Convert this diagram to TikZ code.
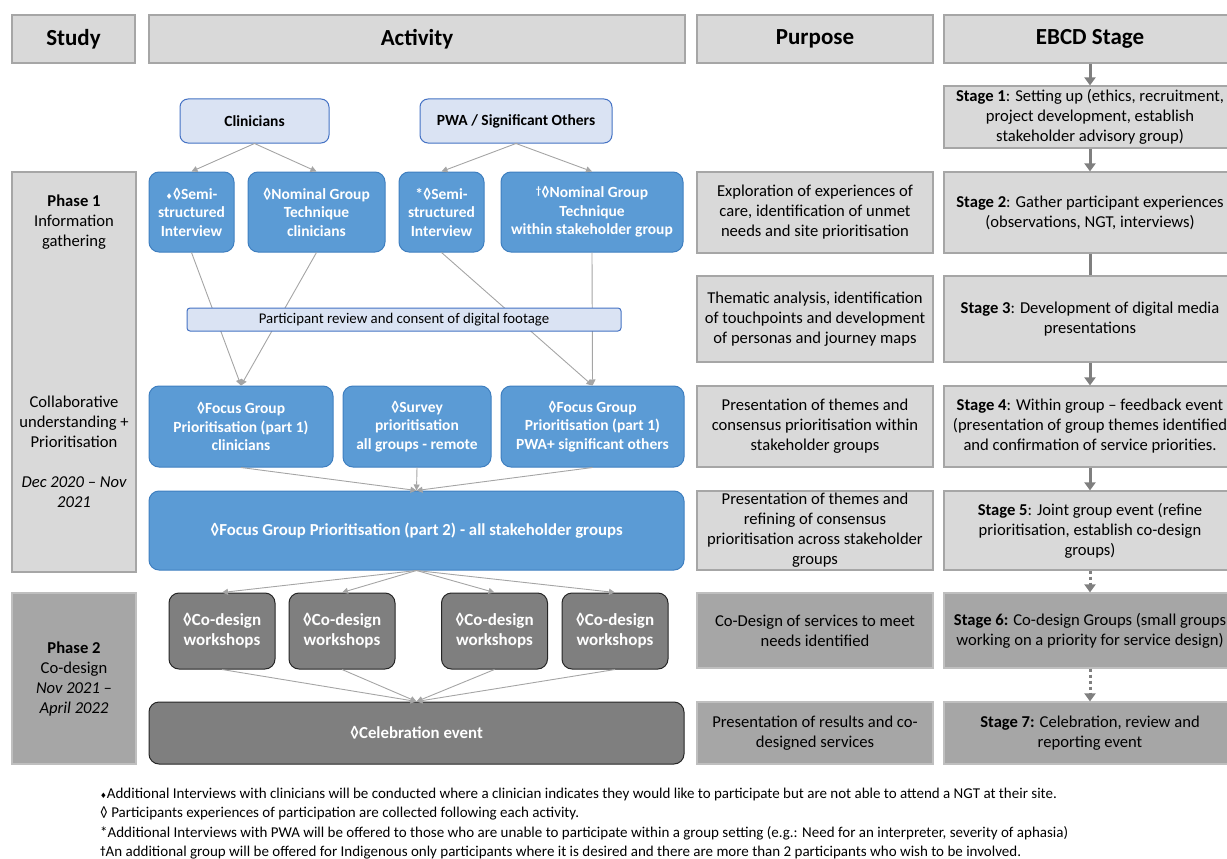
\documentclass[tikz,border=0pt]{standalone}
\usepackage{fontspec}
\setmainfont{Carlito}
\newfontfamily\djv{DejaVu Sans}
\usetikzlibrary{arrows.meta}
\definecolor{hdrfill}{HTML}{D9D9D9}
\definecolor{hdrline}{HTML}{A6A6A6}
\definecolor{lbfill}{HTML}{DAE3F3}
\definecolor{lbline}{HTML}{4472C4}
\definecolor{bfill}{HTML}{5B9BD5}
\definecolor{bline}{HTML}{3F7FC0}
\definecolor{dgfill}{HTML}{7F7F7F}
\definecolor{p2fill}{HTML}{A6A6A6}
\definecolor{p2line}{HTML}{BFBFBF}
\definecolor{arr}{HTML}{A5A5A5}
\definecolor{ebarr}{HTML}{7F7F7F}
\newcommand\bdia{{\djv\fontsize{8}{8}\selectfont ♦}}
\newcommand\fdia{{\djv\fontsize{7.5}{7.5}\selectfont ♦}}
\newcommand\rdag{\raisebox{3pt}{\fontsize{11}{11}\selectfont †}}
\tikzset{
  hdr/.style={draw=hdrline, fill=hdrfill, line width=1.2pt, font=\fontsize{23}{28}\selectfont\bfseries, inner sep=0pt},
  grbox/.style={draw=hdrline, fill=hdrfill, line width=1.2pt, inner sep=0pt, align=center, font=\fontsize{16.6}{20}\selectfont},
  p2box/.style={grbox, fill=p2fill, draw=p2line},
  lbbox/.style={draw=lbline, fill=lbfill, rounded corners=8pt, line width=1pt, font=\fontsize{15.5}{19}\selectfont\bfseries, align=center, inner sep=0pt},
  bbox/.style={draw=bline, fill=bfill, rounded corners=10pt, line width=1pt, text=white, font=\fontsize{15.5}{18.5}\selectfont\bfseries, align=center, inner sep=0pt},
  wsbox/.style={draw=black!85, fill=dgfill, rounded corners=10pt, line width=1pt, text=white, font=\fontsize{17}{20}\selectfont\bfseries, align=center, inner sep=0pt},
  conn/.style={draw=arr, line width=0.9pt, -{Triangle[length=6pt,width=6pt]}},
  ebarrow/.style={draw=ebarr, line width=3pt, -{Triangle[length=8pt,width=11pt]}},
  eblink/.style={draw=ebarr, line width=3pt},
  ebdot/.style={draw=ebarr, line width=3pt, dash pattern=on 3pt off 3pt, -{Triangle[length=8pt,width=11pt]}},
  plain/.style={inner sep=0pt, align=center, font=\fontsize{16.6}{20}\selectfont}
}
\begin{document}
\begin{tikzpicture}[x=1pt,y=-1pt]
\useasboundingbox (0,0) rectangle (1227,859);
% headers
\node[hdr, minimum width=123pt, minimum height=48pt] (hstudy) at (73.5,39) {Study};
\node[hdr, minimum width=536pt, minimum height=48pt] (hact) at (417,39) {Activity};
\node[hdr, minimum width=236pt, minimum height=48pt] (hpur) at (815,39) {Purpose};
\node[hdr, minimum width=292pt, minimum height=48pt] (hebcd) at (1090,39) {EBCD Stage};
% study column
\node[grbox, minimum width=124pt, minimum height=400pt] (ph1) at (74,372) {};
\node[plain] (ph1t) at (74,222) {\textbf{Phase 1}\\Information\\gathering};
\node[plain] (ph1c) at (74,452) {Collaborative\\understanding +\\Prioritisation\\[20pt]\itshape Dec 2020 -- Nov\\\itshape 2021};
\node[p2box, minimum width=124pt, minimum height=171pt] (ph2) at (74,678.5) {};
\node[plain] (ph2t) at (74,679.5) {\textbf{Phase 2}\\Co-design\\\itshape Nov 2021 --\\\itshape April 2022};
% activity
\node[lbbox, minimum width=149pt, minimum height=44pt] (clin) at (254.5,121) {Clinicians};
\node[lbbox, minimum width=192pt, minimum height=44pt] (pwa) at (516,121) {PWA / Significant Others};
\node[bbox, minimum width=85pt, minimum height=80pt] (semi1) at (191.5,212) {\bdia◊Semi-\\structured\\Interview};
\node[bbox, minimum width=137pt, minimum height=80pt] (ngt1) at (316.5,212) {◊Nominal Group\\Technique\\clinicians};
\node[bbox, minimum width=85pt, minimum height=80pt] (semi2) at (441.5,212) {*◊Semi-\\structured\\Interview};
\node[bbox, minimum width=182pt, minimum height=80pt] (ngt2) at (592,212) {\rdag◊Nominal Group\\Technique\\within stakeholder group};
\node[bbox, minimum width=184pt, minimum height=81pt] (fg1) at (241,426.5) {◊Focus Group\\Prioritisation (part 1)\\clinicians};
\node[bbox, minimum width=148pt, minimum height=81pt] (survey) at (417,426.5) {◊Survey\\prioritisation\\all groups - remote};
\node[bbox, minimum width=183pt, minimum height=81pt] (fg3) at (592.5,426.5) {◊Focus Group\\Prioritisation (part 1)\\PWA+ significant others};
\node[bbox, minimum width=535pt, minimum height=79pt, font=\fontsize{16.8}{20}\selectfont\bfseries] (fg2) at (416.5,530.5) {◊Focus Group Prioritisation (part 2) - all stakeholder groups};
\node[wsbox, minimum width=106pt, minimum height=76pt] (ws1) at (222,631) {◊Co-design\\workshops};
\node[wsbox, minimum width=106pt, minimum height=76pt] (ws2) at (342,631) {◊Co-design\\workshops};
\node[wsbox, minimum width=106pt, minimum height=76pt] (ws3) at (494.5,631) {◊Co-design\\workshops};
\node[wsbox, minimum width=106pt, minimum height=76pt] (ws4) at (615,631) {◊Co-design\\workshops};
\node[wsbox, minimum width=535pt, minimum height=62pt, font=\fontsize{16.8}{20}\selectfont\bfseries] (celeb) at (416.5,733) {◊Celebration event};
% activity connectors
\draw[conn] (clin.south) -- (semi1.north);
\draw[conn] (clin.south) -- (ngt1.north);
\draw[conn] (pwa.south) -- (semi2.north);
\draw[conn] (pwa.south) -- (ngt2.north);
\draw[conn] (semi1.south) -- (fg1.north);
\draw[conn] (ngt1.south) -- (fg1.north);
\draw[conn] (semi2.south) -- (fg3.north);
\draw[conn] (ngt2.south) -- (fg3.north);
\node[lbbox, rounded corners=3pt, line width=1pt, minimum width=434pt, minimum height=23pt, font=\fontsize{14.8}{17}\selectfont] (review) at (404,319.5) {Participant review and consent of digital footage};
\draw[conn] (fg1.south) -- (fg2.north);
\draw[conn] (survey.south) -- (fg2.north);
\draw[conn] (fg3.south) -- (fg2.north);
\foreach \w in {ws1,ws2,ws3,ws4}{
  \draw[conn] (fg2.south) -- (\w.north);
  \draw[conn] (\w.south) -- (celeb.north);
}
% purpose
\node[grbox, minimum width=236pt, minimum height=81pt] (pu1) at (815,212.5) {Exploration of experiences of\\care, identification of unmet\\needs and site prioritisation};
\node[grbox, minimum width=236pt, minimum height=86pt] (pu2) at (815,319) {Thematic analysis, identification\\of touchpoints and development\\of personas and journey maps};
\node[grbox, minimum width=236pt, minimum height=81pt] (pu3) at (815,426.5) {Presentation of themes and\\consensus prioritisation within\\stakeholder groups};
\node[grbox, minimum width=236pt, minimum height=79pt] (pu4) at (815,530.5) {Presentation of themes and\\refining of consensus\\prioritisation across stakeholder\\groups};
\node[p2box, minimum width=236pt, minimum height=75pt] (pu5) at (815,630.5) {Co-Design of services to meet\\needs identified};
\node[p2box, minimum width=236pt, minimum height=62pt] (pu6) at (815,733) {Presentation of results and co-\\designed services};
% EBCD stages
\node[grbox, minimum width=292pt, minimum height=62pt] (st1) at (1090,117) {\textbf{Stage 1}: Setting up (ethics, recruitment,\\project development, establish\\stakeholder advisory group)};
\node[grbox, minimum width=292pt, minimum height=81pt] (st2) at (1090,212.5) {\textbf{Stage 2}: Gather participant experiences\\(observations, NGT, interviews)};
\node[grbox, minimum width=292pt, minimum height=86pt] (st3) at (1090,319) {\textbf{Stage 3}: Development of digital media\\presentations};
\node[grbox, minimum width=292pt, minimum height=81pt] (st4) at (1090,426.5) {\textbf{Stage 4}: Within group -- feedback event\\(presentation of group themes identified\\and confirmation of service priorities.};
\node[grbox, minimum width=292pt, minimum height=79pt] (st5) at (1090,530.5) {\textbf{Stage 5}: Joint group event (refine\\prioritisation, establish co-design\\groups)};
\node[p2box, minimum width=292pt, minimum height=75pt] (st6) at (1090,630.5) {\textbf{Stage 6:} Co-design Groups (small groups\\working on a priority for service design)};
\node[p2box, minimum width=292pt, minimum height=62pt] (st7) at (1090,733) {\textbf{Stage 7:} Celebration, review and\\reporting event};
\draw[ebarrow] (hebcd.south) -- (st1.north);
\draw[ebarrow] (st1.south) -- (st2.north);
\draw[eblink] (st2.south) -- (st3.north);
\draw[ebarrow] (st3.south) -- (st4.north);
\draw[ebarrow] (st4.south) -- (st5.north);
\draw[ebdot] (st5.south) -- (st6.north);
\draw[ebdot] (st6.south) -- (st7.north);
% footnotes
\node[anchor=north west, inner sep=0pt, align=left, font=\fontsize{15}{19.2}\selectfont] (notes) at (100,788) {\fdia Additional Interviews with clinicians will be conducted where a clinician indicates they would like to participate but are not able to attend a NGT at their site.\\
◊ Participants experiences of participation are collected following each activity.\\
*Additional Interviews with PWA will be offered to those who are unable to participate within a group setting (e.g.: Need for an interpreter, severity of aphasia)\\
\raisebox{2pt}{\fontsize{11}{11}\selectfont\bfseries †}An additional group will be offered for Indigenous only participants where it is desired and there are more than 2 participants who wish to be involved.};
\end{tikzpicture}
\end{document}
